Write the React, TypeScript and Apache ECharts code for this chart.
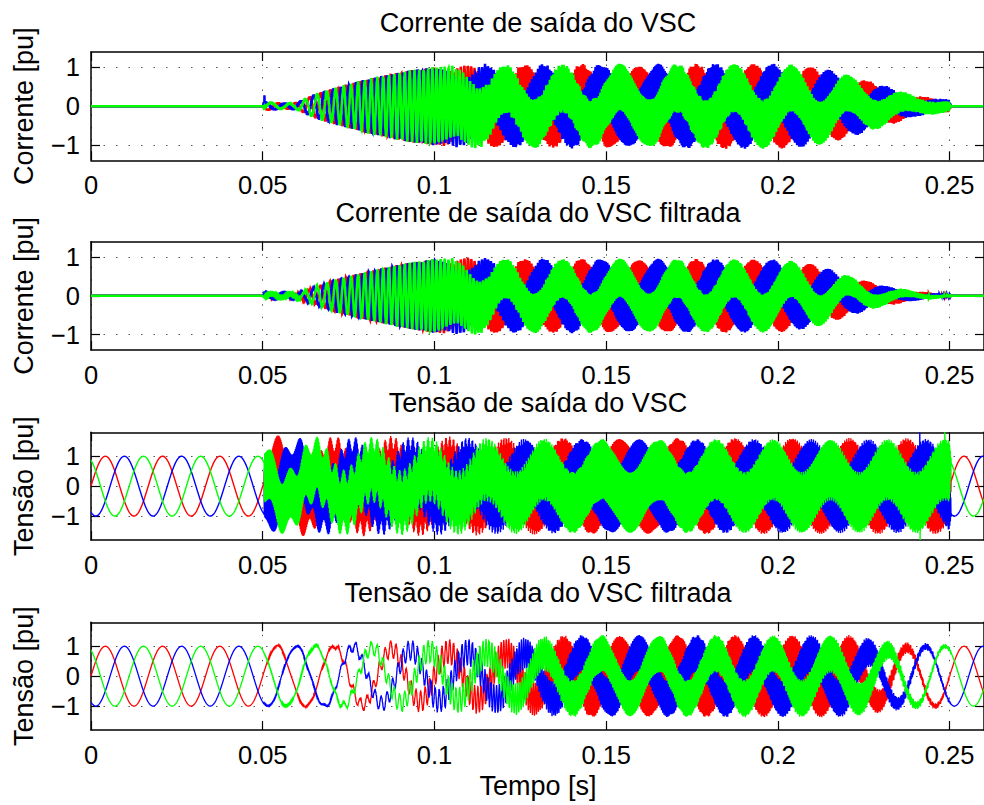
import { useEffect, useRef } from 'react';
import * as echarts from 'echarts';

// Simulation sampling and time window
const SAMPLE_RATE = 40000; // samples per second
const T_END = 0.26; // s
const GRID_HZ = 60; // fundamental frequency
const PWM_HZ = 5000; // switching ripple frequency

// Phase order: a (red), b (blue), c (green), shifts in degrees
const PHASE_SHIFT_DEG = [0, -120, 120];
const PHASE_COLORS = ['#ff0000', '#0000ff', '#00ff00'];

// Axis ticks
const xTicks = [0, 0.05, 0.1, 0.15, 0.2, 0.25];
const yTicks = [-1, 0, 1];
const yLimits = [1.4, 1.4, 1.8, 1.8];

// Texts
const titles = [
  'Corrente de saída do VSC',
  'Corrente de saída do VSC filtrada',
  'Tensão de saída do VSC',
  'Tensão de saída do VSC filtrada',
];
const yNames = ['Corrente [pu]', 'Corrente [pu]', 'Tensão [pu]', 'Tensão [pu]'];
const xName = 'Tempo [s]';

// Swept harmonic injected from 0.05 s: instantaneous frequency (Hz) at time knots (s)
const sweepT = [0.05, 0.06, 0.065, 0.07, 0.08, 0.09, 0.1, 0.11, 0.12, 0.14, 0.2, 0.26];
const sweepHz = [150, 220, 300, 400, 530, 660, 820, 1000, 1300, 2200, 3200, 3800];

// VSC output current: envelope knots (s), fundamental / swept / switching amplitudes (pu)
const iRawT = [0.05, 0.0505, 0.056, 0.06, 0.065, 0.07, 0.08, 0.09, 0.1, 0.11, 0.12, 0.2, 0.21, 0.22, 0.23, 0.24, 0.25, 0.2505];
const iRawFund = [0, 0, 0, 0, 0, 0, 0, 0, 0, 0.25, 0.45, 0.47, 0.45, 0.35, 0.2, 0.08, 0.03, 0];
const iRawSweep = [0, 0.1, 0.06, 0.08, 0.28, 0.42, 0.66, 0.85, 0.98, 0.82, 0.6, 0.6, 0.55, 0.45, 0.33, 0.16, 0.1, 0];
const iRawPwm = [0, 0.04, 0.04, 0.04, 0.04, 0.04, 0.04, 0.04, 0.04, 0.04, 0.04, 0.04, 0.04, 0.04, 0.04, 0.04, 0.04, 0];
const iRawSpikes = [[0.0505, 1, 0.28]]; // [t, phase, value]

// Filtered VSC output current
const iFiltT = [0.05, 0.0505, 0.056, 0.06, 0.065, 0.07, 0.08, 0.09, 0.1, 0.11, 0.12, 0.2, 0.21, 0.22, 0.23, 0.24, 0.25, 0.2505];
const iFiltFund = [0, 0, 0, 0, 0, 0, 0, 0, 0, 0.25, 0.45, 0.45, 0.4, 0.28, 0.12, 0.05, 0.01, 0];
const iFiltSweep = [0, 0.06, 0.04, 0.06, 0.2, 0.38, 0.6, 0.8, 0.94, 0.75, 0.5, 0.48, 0.42, 0.25, 0.15, 0.07, 0.03, 0];
const iFiltPwm = [0, 0.02, 0.02, 0.02, 0.02, 0.02, 0.02, 0.02, 0.02, 0.02, 0.02, 0.02, 0.02, 0.02, 0.02, 0.01, 0.01, 0];
const iFiltSpikes = [[0.0505, 1, 0.12]];

// Current fundamental lags the voltage (degrees)
const CURRENT_PHASE_DEG = -116;

// VSC output voltage (unfiltered)
const vRawT = [0.0504, 0.0505, 0.1, 0.14, 0.25, 0.2505];
const vRawFund = [1, 0.55, 0.55, 0.55, 0.55, 1];
const vRawSweep = [0, 0.3, 0.22, 0.08, 0.08, 0];
const vRawPwm = [0, 0.85, 0.9, 0.98, 0.98, 0];
const vRawSpikes = [[0.2413, 1, 1.8], [0.2414, 2, -1.8], [0.2486, 2, 1.8]];

// Filtered VSC output voltage
const vFiltT = [0.05, 0.0505, 0.07, 0.075, 0.085, 0.1, 0.12, 0.14, 0.22, 0.225, 0.23, 0.235, 0.24, 0.245, 0.25, 0.2505];
const vFiltFund = [1, 1, 1, 0.98, 0.92, 0.82, 0.77, 0.75, 0.75, 0.78, 0.85, 0.92, 0.97, 1, 1, 1];
const vFiltSweep = [0, 0.02, 0.05, 0.15, 0.25, 0.38, 0.48, 0.6, 0.6, 0.5, 0.35, 0.2, 0.12, 0.08, 0.05, 0];
const vFiltPwm = [0, 0.035, 0.035, 0.035, 0.035, 0.035, 0.035, 0.035, 0.035, 0.035, 0.035, 0.035, 0.035, 0.03, 0.03, 0];

const FONT = "'Liberation Sans', Arial, Helvetica, sans-serif";

type Spec = {
  t: number[];
  fund: number[];
  sweep: number[];
  pwm: number[];
  fundPhaseDeg: number;
  spikes: number[][];
  width: number;
};

function interp(ts: number[], vs: number[], t: number): number {
  if (t <= ts[0]) return vs[0];
  const last = ts.length - 1;
  if (t >= ts[last]) return vs[last];
  let i = 1;
  while (ts[i] < t) i++;
  const a = (t - ts[i - 1]) / (ts[i] - ts[i - 1]);
  return vs[i - 1] + a * (vs[i] - vs[i - 1]);
}

function buildPhases(spec: Spec): number[][][] {
  const n = Math.round(T_END * SAMPLE_RATE);
  const out: number[][][] = [[], [], []];
  const w = 2 * Math.PI * GRID_HZ;
  const fundPhase = (spec.fundPhaseDeg * Math.PI) / 180;
  let sweepPhase = 0;
  for (let i = 0; i <= n; i++) {
    const t = i / SAMPLE_RATE;
    sweepPhase += (2 * Math.PI * interp(sweepT, sweepHz, t)) / SAMPLE_RATE;
    const a1 = interp(spec.t, spec.fund, t);
    const a2 = interp(spec.t, spec.sweep, t);
    const a3 = interp(spec.t, spec.pwm, t);
    for (let k = 0; k < 3; k++) {
      const p = (PHASE_SHIFT_DEG[k] * Math.PI) / 180;
      const v =
        a1 * Math.sin(w * t + fundPhase + p) +
        a2 * Math.sin(sweepPhase + p) +
        a3 * Math.sin(2 * Math.PI * PWM_HZ * t + p);
      out[k].push([t, Math.round(v * 10000) / 10000]);
    }
  }
  spec.spikes.forEach(([ts, k, val]) => {
    const idx = Math.round(ts * SAMPLE_RATE);
    out[k][idx][1] = val;
  });
  return out;
}

const specs: Spec[] = [
  { t: iRawT, fund: iRawFund, sweep: iRawSweep, pwm: iRawPwm, fundPhaseDeg: CURRENT_PHASE_DEG, spikes: iRawSpikes, width: 2.5 },
  { t: iFiltT, fund: iFiltFund, sweep: iFiltSweep, pwm: iFiltPwm, fundPhaseDeg: CURRENT_PHASE_DEG, spikes: iFiltSpikes, width: 2.5 },
  { t: vRawT, fund: vRawFund, sweep: vRawSweep, pwm: vRawPwm, fundPhaseDeg: 0, spikes: vRawSpikes, width: 1.4 },
  { t: vFiltT, fund: vFiltFund, sweep: vFiltSweep, pwm: vFiltPwm, fundPhaseDeg: 0, spikes: [], width: 1.3 },
];

const gridBoxes = [
  { top: 52, height: 108.3 },
  { top: 241.7, height: 108.3 },
  { top: 432.3, height: 107.7 },
  { top: 622.3, height: 107.7 },
];
const titleY = [22.5, 212.5, 402.5, 592.5];

function fmtY(v: number) {
  return v < 0 ? '\u2212' + Math.abs(v) : String(v);
}

function buildOption() {
  const grid = gridBoxes.map((g) => ({ left: 91, width: 895, top: g.top, height: g.height }));
  const tickStyle = { color: '#000', width: 1.2 };
  const lineStyle = { color: '#000', width: 1.5 };
  const dotted = { color: '#555', width: 1, type: [1.5, 11] };
  const xAxis: any[] = [];
  const yAxis: any[] = [];
  const series: any[] = [];
  gridBoxes.forEach((_, i) => {
    xAxis.push({
      type: 'value', gridIndex: i, min: 0, max: T_END, position: 'bottom',
      axisLine: { onZero: false, lineStyle },
      axisTick: { inside: true, length: 9, customValues: xTicks, lineStyle: tickStyle },
      axisLabel: { customValues: xTicks, color: '#000', fontSize: 25.5, fontFamily: FONT, margin: 12, formatter: (v: number) => String(v) },
      splitLine: { show: true, lineStyle: dotted },
    });
    xAxis.push({
      type: 'value', gridIndex: i, min: 0, max: T_END, position: 'top',
      axisLine: { onZero: false, lineStyle },
      axisTick: { inside: true, length: 9, customValues: xTicks, lineStyle: tickStyle },
      axisLabel: { show: false },
      splitLine: { show: false },
    });
    yAxis.push({
      type: 'value', gridIndex: i, min: -yLimits[i], max: yLimits[i], position: 'left',
      axisLine: { onZero: false, lineStyle },
      axisTick: { inside: true, length: 9, customValues: yTicks, lineStyle: tickStyle },
      axisLabel: { customValues: yTicks, color: '#000', fontSize: 25.5, fontFamily: FONT, margin: 11, formatter: fmtY },
      splitLine: { show: true, lineStyle: dotted },
    });
    yAxis.push({
      type: 'value', gridIndex: i, min: -yLimits[i], max: yLimits[i], position: 'right',
      axisLine: { onZero: false, lineStyle },
      axisTick: { inside: true, length: 9, customValues: yTicks, lineStyle: tickStyle },
      axisLabel: { show: false },
      splitLine: { show: false },
    });
    const phases = buildPhases(specs[i]);
    phases.forEach((data, k) => {
      series.push({
        type: 'line', xAxisIndex: 2 * i, yAxisIndex: 2 * i, data,
        showSymbol: false, symbol: 'none', silent: true, z: 3,
        lineStyle: { color: PHASE_COLORS[k], width: specs[i].width, join: 'miter' },
        emphasis: { disabled: true },
      });
    });
  });

  const graphic: any[] = [];
  titles.forEach((t, i) => {
    graphic.push({
      type: 'text', x: 538, y: titleY[i], z: 10,
      style: { text: t, fill: '#000', font: `27px ${FONT}`, textAlign: 'center', textVerticalAlign: 'middle' },
    });
  });
  yNames.forEach((t, i) => {
    const g = gridBoxes[i];
    graphic.push({
      type: 'text', x: 23.5, y: g.top + g.height / 2, rotation: Math.PI / 2, z: 10,
      style: { text: t, fill: '#000', font: `27px ${FONT}`, textAlign: 'center', textVerticalAlign: 'middle' },
    });
  });
  graphic.push({
    type: 'text', x: 538, y: 786, z: 10,
    style: { text: xName, fill: '#000', font: `27px ${FONT}`, textAlign: 'center', textVerticalAlign: 'middle' },
  });

  return { animation: false, backgroundColor: '#fff', grid, xAxis, yAxis, series, graphic };
}

export default function App() {
  const ref = useRef<HTMLDivElement>(null);
  useEffect(() => {
    if (!ref.current) return;
    const chart = echarts.init(ref.current, undefined, { renderer: 'svg' });
    chart.setOption(buildOption() as any);
    return () => chart.dispose();
  }, []);
  return (
    <div
      ref={ref}
      style={{ position: 'absolute', left: 0, top: 0, width: 984, height: 805, background: '#fff' }}
    />
  );
}
